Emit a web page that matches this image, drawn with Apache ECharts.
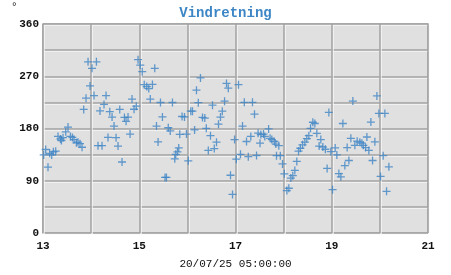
<!DOCTYPE html>
<html>
<head>
<meta charset="utf-8">
<script src="https://cdn.jsdelivr.net/npm/echarts@6/dist/echarts.min.js"></script>
<style>html,body{margin:0;padding:0;background:#fff}#c{width:451px;height:275px}</style>
</head>
<body>
<div id="c"></div>
<script>
// x = day of month (fractional), y = wind direction in degrees
var xValues = [13.015,13.056,13.104,13.139,13.181,13.216,13.264,13.312,13.362,13.383,13.416,13.472,13.520,13.570,13.611,13.644,13.694,13.728,13.769,13.811,
13.846,13.894,13.936,13.977,14.019,14.060,14.110,14.143,14.185,14.227,14.268,14.310,14.351,14.387,14.435,14.476,14.518,14.559,14.595,14.642,
14.692,14.726,14.767,14.809,14.850,14.892,14.938,14.975,15.021,15.062,15.104,15.156,15.198,15.229,15.274,15.322,15.358,15.391,15.441,15.482,
15.536,15.565,15.603,15.644,15.690,15.738,15.759,15.794,15.821,15.842,15.890,15.940,15.981,16.019,16.071,16.106,16.150,16.189,16.227,16.272,
16.314,16.362,16.393,16.435,16.480,16.522,16.559,16.605,16.647,16.688,16.726,16.773,16.813,16.850,16.896,16.938,16.981,17.017,17.062,17.104,
17.146,17.183,17.229,17.266,17.318,17.353,17.395,17.437,17.470,17.526,17.510,17.582,17.609,17.688,17.719,17.755,17.807,17.838,17.900,17.852,
17.931,17.977,18.015,18.067,18.108,18.150,18.191,18.233,18.274,18.310,18.347,18.393,18.441,18.482,18.524,18.559,18.607,18.649,18.690,18.773,
18.738,18.815,18.867,18.904,18.940,18.981,19.017,19.071,19.106,19.148,19.189,19.231,19.272,19.320,19.356,19.397,19.439,19.480,19.528,19.584,
19.626,19.657,19.703,19.730,19.771,19.813,19.848,19.896,19.938,19.979,20.015,20.069,20.104,20.139,20.187];
var directions = [134.4,143.8,113.3,137.2,134.4,139.9,141.0,166.4,162.1,159.3,164.2,174.2,182.5,166.4,164.7,160.9,155.4,156.4,153.8,147.7,
212.9,232.3,294.8,253.3,283.7,236.7,294.8,150.5,210.2,150.5,221.5,236.7,164.7,209.0,199.6,184.1,164.2,149.8,212.9,122.3,
199.1,192.4,199.6,170.4,230.6,213.2,218.5,298.6,289.2,277.9,255.5,252.2,248.8,230.6,256.0,283.7,184.1,156.8,224.8,199.9,
95.7,95.7,181.3,175.9,224.8,127.7,135.5,139.9,146.5,170.0,200.7,199.9,170.4,124.4,209.9,209.9,177.5,246.0,224.5,267.1,
199.1,197.9,180.3,142.2,167.6,220.2,145.5,156.4,187.5,199.6,209.9,227.0,257.6,249.4,99.5,66.4,160.9,127.2,255.5,135.5,
184.1,225.1,157.6,131.4,166.4,225.1,204.6,133.5,172.0,169.7,154.8,170.4,166.4,179.2,163.1,160.9,157.6,153.1,150.5,133.2,
133.2,119.0,102.0,73.0,77.1,94.6,98.7,107.8,123.3,141.0,146.0,151.8,156.4,162.6,167.6,180.3,190.8,188.6,171.7,160.9,
149.8,148.1,144.3,111.2,207.7,140.2,74.7,146.5,134.4,102.4,96.7,188.6,116.1,147.2,124.9,163.1,227.3,151.0,158.1,156.4,
154.8,151.0,147.2,165.4,142.2,191.1,124.9,157.1,236.1,206.0,97.4,133.2,206.0,71.8,114.0];
var titleText = 'Vindretning';
var unitText = '°';
var xAxisName = '20/07/25 05:00:00';
var yTicksShown = [0, 90, 180, 270, 360];
var xTicksShown = [13, 15, 17, 19, 21];

var pts = xValues.map(function (x, i) { return [x, directions[i]]; });
var mono = '"Liberation Mono","DejaVu Sans Mono",monospace';
var gridLine = { color: '#a2a2a2', width: 1.5, shadowColor: 'rgba(250,250,250,0.9)', shadowOffsetX: 1, shadowOffsetY: 1, shadowBlur: 0 };

var chart = echarts.init(document.getElementById('c'), null, { renderer: 'canvas' });
chart.setOption({
  animation: false,
  backgroundColor: '#ffffff',
  title: [
    { text: titleText, left: 'center', top: 1,
      textStyle: { fontFamily: mono, fontWeight: 'bold', fontSize: 14, color: '#3d86c6' } },
    { text: unitText, left: 6, top: -3,
      textStyle: { fontFamily: mono, fontWeight: 'normal', fontSize: 11, color: '#222' } }
  ],
  grid: { left: 43, right: 23, top: 24, bottom: 34, show: true,
          backgroundColor: '#e0e0e0', borderColor: '#a8a8a8', borderWidth: 1.5 },
  xAxis: {
    type: 'value', min: 13, max: 21, interval: 1,
    name: xAxisName, nameLocation: 'middle', nameGap: 26,
    nameTextStyle: { fontFamily: mono, fontSize: 11, color: '#111' },
    axisLine: { show: false }, axisTick: { show: false },
    axisLabel: { fontFamily: mono, fontWeight: 'bold', fontSize: 11, color: '#111', margin: 8,
      formatter: function (v) { return xTicksShown.indexOf(v) >= 0 ? String(v) : ''; } },
    splitLine: { show: true, lineStyle: gridLine }
  },
  yAxis: {
    type: 'value', min: 0, max: 360, interval: 45,
    axisLine: { show: false }, axisTick: { show: false },
    axisLabel: { fontFamily: mono, fontWeight: 'bold', fontSize: 11, color: '#111', margin: 4,
      formatter: function (v) { return yTicksShown.indexOf(v) >= 0 ? String(v) : ''; } },
    splitLine: { show: true, lineStyle: gridLine }
  },
  series: [{
    type: 'scatter',
    data: pts,
    symbol: 'path://M0,5 L10,5 M5,0 L5,10',
    symbolSize: 8,
    itemStyle: { color: 'rgba(0,0,0,0)', borderColor: '#3f84c4', borderWidth: 1.3 }
  }]
});
</script>
</body>
</html>
